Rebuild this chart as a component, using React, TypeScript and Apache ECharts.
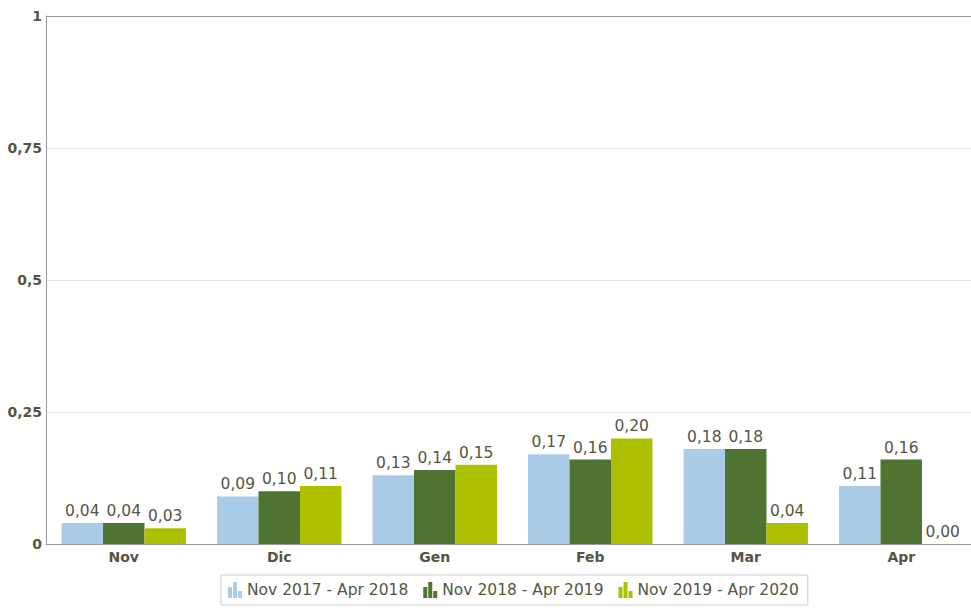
import React, { useEffect, useRef } from "react";
import * as echarts from "echarts";

const categories = ["Nov", "Dic", "Gen", "Feb", "Mar", "Apr"];
const seriesNames = ["Nov 2017 - Apr 2018", "Nov 2018 - Apr 2019", "Nov 2019 - Apr 2020"];
const values2018 = [0.04, 0.09, 0.13, 0.17, 0.18, 0.11];
const values2019 = [0.04, 0.1, 0.14, 0.16, 0.18, 0.16];
const values2020 = [0.03, 0.11, 0.15, 0.2, 0.04, 0.0];
const colors = ["#a9cbe8", "#4f7431", "#acc000"];

const FONT = "DejaVu Sans, Verdana, sans-serif";
const ICON = "path://M0,5h4v11h-4z M5,0h4v16h-4z M10,9h4v7h-4z";

export default function App() {
  const ref = useRef<HTMLDivElement>(null);
  useEffect(() => {
    document.body.style.margin = "0";
    const chart = echarts.init(ref.current!, null, { renderer: "svg" });
    const data = [values2018, values2019, values2020];
    chart.setOption({
      animation: false,
      grid: { left: 46, width: 933, top: 16, bottom: 64, outerBoundsMode: "none", containLabel: false },
      legend: {
        left: 221,
        top: 575,
        itemWidth: 14,
        itemHeight: 16,
        itemGap: 15,
        padding: [7, 9, 7, 7],
        borderColor: "#cccccc",
        borderWidth: 1,
        textStyle: { fontFamily: FONT, fontSize: 15.5, color: "#55553f" },
        data: seriesNames.map((n) => ({ name: n, icon: ICON })),
      },
      xAxis: {
        type: "category",
        data: categories,
        axisLine: { lineStyle: { color: "#999999", width: 1 } },
        axisTick: { show: false },
        axisLabel: { fontFamily: FONT, fontSize: 14, fontWeight: "bold", color: "#55553f", margin: 6 },
      },
      yAxis: {
        type: "value",
        min: 0,
        max: 1,
        interval: 0.25,
        axisLine: { show: true, lineStyle: { color: "#999999" } },
        axisTick: { show: false },
        splitLine: { lineStyle: { color: ["#e6e6e6", "#e6e6e6", "#e6e6e6", "#e6e6e6", "#999999"] } },
        axisLabel: {
          fontFamily: FONT,
          fontSize: 14,
          fontWeight: "bold",
          color: "#55553f",
          margin: 4,
          formatter: (v: number) => String(v).replace(".", ","),
        },
      },
      series: seriesNames.map((name, i) => ({
        name,
        type: "bar",
        data: data[i],
        barGap: "0%",
        barCategoryGap: "20%",
        itemStyle: { color: colors[i] },
        label: {
          show: true,
          position: "top",
          distance: 4,
          fontFamily: FONT,
          fontSize: 15.5,
          color: "#55553f",
          formatter: (p: any) => p.value.toFixed(2).replace(".", ","),
        },
      })),
    });
    return () => chart.dispose();
  }, []);
  return <div ref={ref} style={{ width: 971, height: 608 }} />;
}
